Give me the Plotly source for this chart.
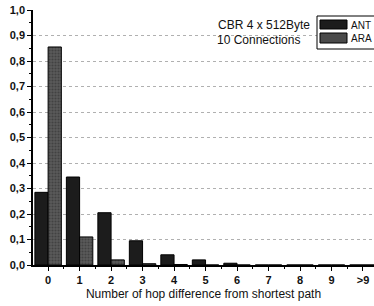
import plotly.graph_objects as go

categories = ["0", "1", "2", "3", "4", "5", "6", "7", "8", "9", ">9"]
ant_values = [0.285, 0.345, 0.205, 0.095, 0.04, 0.02, 0.007, 0.0, 0.0, 0.0, 0.0]
ara_values = [0.855, 0.11, 0.02, 0.005, 0.002, 0.0, 0.0, 0.0, 0.0, 0.0, 0.0]
series_names = ["ANT", "ARA"]
legend_lines = ["CBR 4 x 512Byte", "10 Connections"]
y_ticks = [0.0, 0.1, 0.2, 0.3, 0.4, 0.5, 0.6, 0.7, 0.8, 0.9, 1.0]

W, H = 374, 306
L, R, T, B = 33, 0, 10, 306 - 265
pw, ph = W - L - R, H - T - B

def px(x):
    return (x - L) / pw

def py(y):
    return (H - B - y) / ph

fig = go.Figure()
fig.add_trace(go.Bar(x=list(range(len(categories))), y=ant_values, name=series_names[0],
                     marker=dict(color="#1c1c1c", line=dict(color="#000", width=1)),
                     showlegend=False))
fig.add_trace(go.Bar(x=list(range(len(categories))), y=ara_values, name=series_names[1],
                     marker=dict(color="#4a4a4a", line=dict(color="#000", width=1),
                                 pattern=dict(shape=".", fgcolor="#2a2a2a", bgcolor="#5a5a5a", size=3, solidity=0.4)),
                     showlegend=False))

font = "Liberation Sans, Arial, sans-serif"

# legend drawn manually
shapes = [
    dict(type="rect", xref="paper", yref="paper", x0=px(317), x1=px(420), y0=py(49), y1=py(16),
         line=dict(color="#000", width=1), fillcolor="white", layer="above"),
    dict(type="rect", xref="paper", yref="paper", x0=px(320), x1=px(347), y0=py(29), y1=py(20),
         line=dict(color="#000", width=1), fillcolor="#1c1c1c", layer="above"),
    dict(type="rect", xref="paper", yref="paper", x0=px(320), x1=px(347), y0=py(43), y1=py(33),
         line=dict(color="#000", width=1), fillcolor="#4a4a4a", layer="above"),
]
annotations = [
    dict(text=legend_lines[0], xref="paper", yref="paper", x=px(312), y=py(25), xanchor="right",
         yanchor="middle", showarrow=False, font=dict(family=font, size=12, color="#111")),
    dict(text=legend_lines[1], xref="paper", yref="paper", x=px(215), y=py(40), xanchor="left",
         yanchor="middle", showarrow=False, font=dict(family=font, size=12, color="#111")),
    dict(text=series_names[0], xref="paper", yref="paper", x=px(349), y=py(25), xanchor="left",
         yanchor="middle", showarrow=False, font=dict(family=font, size=10, color="#111")),
    dict(text=series_names[1], xref="paper", yref="paper", x=px(349), y=py(38), xanchor="left",
         yanchor="middle", showarrow=False, font=dict(family=font, size=10, color="#111")),
]

fig.update_layout(
    width=W, height=H,
    margin=dict(l=L, r=R, t=T, b=B, autoexpand=False),
    paper_bgcolor="white", plot_bgcolor="white",
    barmode="group", bargap=0.16, bargroupgap=0,
    separators=",.",
    shapes=shapes, annotations=annotations,
    font=dict(family=font, color="#111"),
    xaxis=dict(
        range=[-0.48, 10.35], tickmode="array", tickvals=list(range(len(categories))),
        ticktext=categories, showgrid=False, zeroline=False,
        showline=True, linecolor="#000", linewidth=1.5,
        ticks="outside", ticklen=4, tickwidth=1.2, tickcolor="#000",
        minor=dict(ticks="outside", ticklen=2, tickwidth=1, tickcolor="#000", dtick=0.5, tick0=0.5, showgrid=False),
        tickfont=dict(family=font, size=11, color="#111", weight="bold"),
        title=dict(text="Number of hop difference from shortest path", standoff=5,
                   font=dict(family=font, size=12, color="#111")),
        automargin=False,
        fixedrange=True,
    ),
    yaxis=dict(
        range=[0, 1.0], tickmode="array", tickvals=y_ticks, tickformat=".1f",
        showgrid=True, gridcolor="#b0b0b0", griddash="dot", gridwidth=1,
        zeroline=False, showline=True, linecolor="#000", linewidth=1.5,
        ticks="outside", ticklen=4, tickwidth=1.2, tickcolor="#000",
        minor=dict(ticks="outside", ticklen=2, tickwidth=1, tickcolor="#000", dtick=0.05, showgrid=False),
        tickfont=dict(family=font, size=11, color="#111", weight="bold"),
        automargin=False,
        fixedrange=True,
    ),
)

fig.write_html("out.html", config={"displayModeBar": False},
               post_script="document.body.style.margin='0';document.body.style.overflow='hidden';")
